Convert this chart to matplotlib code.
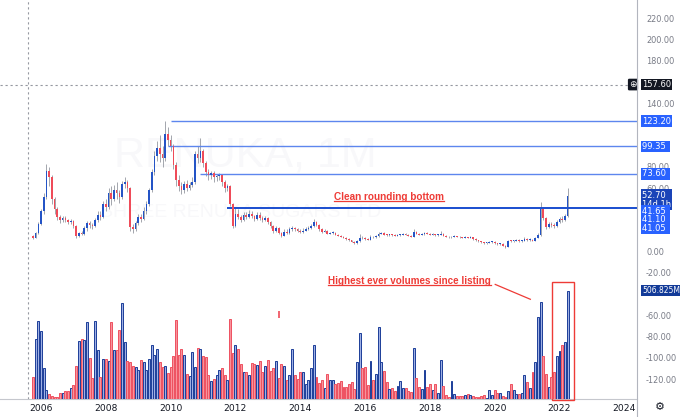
import matplotlib
matplotlib.use("Agg")
import matplotlib.pyplot as plt
from matplotlib.transforms import blended_transform_factory, IdentityTransform
from matplotlib.lines import Line2D
from matplotlib.patches import Rectangle
import numpy as np

# ---------------- data (monthly, Oct 2005 .. Apr 2022) ----------------
first_open = 15.0
closes = [
    13, 18, 26, 38, 52, 76, 70, 50, 40, 33, 30, 32,
    30, 28, 29, 24, 15, 18, 17, 22, 27, 25, 24, 30,
    35, 33, 45, 42, 55, 50, 58, 55, 52, 64, 66, 60,
    23, 21, 27, 33, 31, 38, 45, 58, 75, 90, 98, 92,
    88, 111, 105, 100, 82, 68, 62, 58, 64, 60, 63, 66,
    92, 88, 95, 84, 75, 72, 74, 70, 71, 72, 66, 60,
    62, 45, 24, 36, 33, 30, 35, 33, 36, 34, 31, 35,
    32, 30, 32, 28, 24, 20, 22, 18, 15, 19, 18, 21,
    22, 21, 20, 19, 20, 21, 22, 24, 28, 25, 21, 19,
    20, 17, 17.5, 18, 16, 15, 14, 13, 12, 11, 9.5, 8,
    10, 13, 12.5, 12, 11.5, 14, 13.5, 14.5, 17, 17.5, 16, 15.5,
    16, 15.5, 15, 15.5, 16, 16.5, 16, 15, 14, 19, 17, 16,
    16.5, 17.5, 17, 16, 16.5, 15.5, 16, 17, 15, 14, 13.5, 14,
    14.5, 14, 13.5, 13, 13.5, 13, 13.5, 12, 11, 10, 9, 8,
    8.5, 9, 9.5, 8, 7, 7.5, 5.5, 4.5, 10.5, 10, 10.5, 11,
    10, 10.5, 12, 11, 11.5, 10.5, 13, 16, 40, 32, 23, 26,
    25, 24, 28, 31, 30, 34, 52.7,
]
highs = [
    16, 19, 28, 40, 55, 83, 80, 72, 52, 42, 35, 34,
    34, 31, 31, 30, 25, 19, 20, 24, 29, 29, 27, 32,
    38, 38, 48, 50, 60, 62, 63, 66, 58, 67, 70, 68,
    61, 26, 29, 36, 36, 42, 48, 60, 78, 95, 104, 110,
    100, 123.2, 118, 110, 102, 85, 72, 66, 67, 68, 66, 70,
    95, 100, 107, 97, 86, 78, 76, 76, 73.6, 74, 73, 68,
    64, 63, 46, 41.65, 40, 35, 37, 37, 39, 38, 35, 37,
    37, 34, 34, 33, 29, 25, 24, 23, 19, 21, 21, 23,
    24, 23, 22, 21, 22, 23, 24, 26, 31, 29, 26, 22,
    21.5, 20.5, 19, 19.5, 18.5, 16.5, 15.5, 14.5, 13.5, 12.5, 11.5, 10,
    11, 17, 14.5, 13.5, 13, 15.5, 15, 16, 19, 19, 18.5, 17,
    17, 17, 16.5, 16.5, 17, 18, 17.5, 16.5, 15.5, 21, 19.5, 18,
    17.5, 19, 18.5, 17.5, 17.5, 17, 17, 20, 17.5, 15.5, 14.5, 15,
    15.5, 15, 14.5, 14, 14.5, 14, 14.5, 14, 12.5, 11.5, 10.5, 9.5,
    9.5, 10, 10.5, 10, 8.5, 8.5, 8, 6, 11.5, 11.5, 11.5, 12,
    12, 11.5, 13.5, 13, 12.5, 12, 14, 18, 47, 42, 33, 28,
    28, 27, 30, 33, 34, 36, 60,
]
lows = [
    12, 12.5, 17, 25, 36, 50, 62, 45, 36, 30, 27, 28,
    28, 26, 26, 22, 13, 14, 15.5, 16, 20, 22, 21, 23,
    28, 30, 32, 38, 40, 44, 48, 50, 46, 50, 60, 56,
    20, 18, 20, 25, 28, 30, 36, 43, 56, 72, 86, 85,
    80, 86, 99.35, 95, 78, 62, 57, 54, 55, 57, 58, 61,
    64, 84, 85, 80, 71, 68, 69, 66, 67, 68, 62, 56,
    57, 43, 22, 23, 31, 28, 29, 31, 32, 32, 29, 30,
    30, 28, 29, 26, 22, 18, 19, 17, 14, 14.5, 17, 17,
    20, 20, 19, 18, 18, 19.5, 20.5, 21, 23, 24, 20, 18,
    18.5, 16.5, 16.5, 17, 15.5, 14.5, 13.5, 12.5, 11.5, 10.5, 9, 7.5,
    7.5, 9.5, 12, 11.5, 11, 11, 13, 13, 14, 16.5, 15.5, 15,
    15, 15, 14.5, 14.5, 15, 15.5, 15.5, 14.5, 13.5, 13.5, 16.5, 15.5,
    15.5, 16, 16.5, 15.5, 15.5, 15, 15, 15.5, 14.5, 13.5, 13, 13,
    13.5, 13.5, 13, 12.5, 12.5, 12.5, 12.5, 11.5, 10.5, 9.5, 8.5, 7.5,
    7.5, 8, 8.5, 7.5, 6.5, 6.5, 5, 3.5, 4.5, 9, 9.5, 10,
    9.5, 9.5, 10, 10.5, 10.5, 10, 10, 12.5, 15, 30, 21, 22,
    23, 22, 23, 27, 28, 29, 33,
]
volumes_m = [
    102, 282, 367, 317, 145, 44, 23, 12, 8, 8, 28, 27,
    39, 36, 52, 67, 153, 271, 283, 278, 360, 192, 99, 364,
    227, 103, 185, 188, 180, 361, 227, 231, 321, 450, 267, 180,
    172, 156, 150, 138, 181, 175, 138, 189, 255, 208, 232, 172,
    150, 153, 122, 150, 203, 369, 208, 232, 208, 117, 106, 221,
    149, 240, 232, 203, 197, 114, 86, 94, 110, 136, 145, 114,
    88, 375, 213, 255, 236, 164, 125, 128, 111, 169, 164, 158,
    180, 125, 153, 181, 133, 144, 177, 99, 164, 156, 88, 114,
    232, 110, 94, 125, 125, 70, 89, 147, 252, 102, 74, 89,
    53, 117, 89, 89, 69, 77, 86, 58, 55, 69, 81, 48,
    174, 308, 144, 149, 66, 178, 89, 117, 335, 174, 131, 78,
    47, 53, 39, 61, 83, 50, 50, 39, 34, 238, 97, 58,
    47, 136, 58, 70, 42, 70, 30, 183, 61, 19, 8, 84,
    23, 14, 14, 14, 19, 23, 19, 14, 11, 11, 14, 19,
    6, 42, 19, 42, 27, 30, 14, 11, 39, 69, 42, 23,
    22, 30, 111, 81, 50, 124, 175, 383, 452, 202, 117, 58,
    105, 128, 199, 225, 252, 269, 507,
]
first_year, first_month = 2005, 10
tick_years = [2006, 2008, 2010, 2012, 2014, 2016, 2018, 2020, 2022, 2024]
price_ticks = [220, 200, 180, 140, 80, 60, 0, -20, -60, -80, -100, -120]

level_prices = [123.20, 99.35, 73.60, 41.65, 41.10, 41.05]
level_start = [51, 50, 62, 72, 72, 72]
last_price = 52.70
crosshair_price = 157.60
last_volume = 506.825
stray_mark = (91, 378, 411)   # small red mark in volume pane

# ---------------- figure ----------------
W, H = 680, 417
fig = plt.figure(figsize=(W / 100, H / 100), dpi=100)
fig.patch.set_facecolor("white")
ax_bottom_px = 399
ax = fig.add_axes([0, (H - ax_bottom_px) / H, 637 / W, ax_bottom_px / H])
ax.set_facecolor("white")

n = len(closes)
x = np.arange(n)
closes_a = np.array(closes, float)
opens_a = np.concatenate([[first_open], closes_a[:-1]])
highs_a = np.array(highs, float)
lows_a = np.array(lows, float)
up = closes_a >= opens_a

UP_C = "#2454c6"
DN_C = "#ef4b59"
WICK_C = "#a3a6ad"

ax.set_xlim(-12.2, 223.7)
ax.set_ylim(-138.8, 237.3)

# watermark (very faint)
ax.text(78.5, 91, "RENUKA, 1M", fontsize=31, color="#f8f8fa", ha="center",
        va="center", zorder=0, family="Liberation Sans")
ax.text(77, 37, "SHREE RENUKA SUGARS LTD", fontsize=14, color="#f8f8fa",
        ha="center", va="center", zorder=0, family="Liberation Sans")

# crosshair
ax.axhline(crosshair_price, color="#9598a1", lw=0.8, ls=(0, (2, 2.5)), zorder=1)
ax.axvline(-1.85, color="#9598a1", lw=0.8, ls=(0, (2, 2.5)), zorder=1)

# candles
ax.vlines(x, lows_a, highs_a, color=WICK_C, lw=0.7, zorder=2)
body_bottom = np.minimum(opens_a, closes_a)
body_h = np.maximum(np.abs(closes_a - opens_a), 0.8)
ax.bar(x, body_h, bottom=body_bottom, width=0.62,
       color=np.where(up, UP_C, DN_C), zorder=3, linewidth=0)

# horizontal levels
for p, s in zip(level_prices, level_start):
    if p > 50:
        ax.hlines(p, s, 223.7, color="#5d86ee", lw=1.0, zorder=2.5)
    else:
        ax.hlines(p, s, 223.7, color="#1d4fd0", lw=1.1, zorder=2.5)

# ---------------- volume pane ----------------
ax2 = ax.twinx()
ax2.set_ylim(0, 1867)
ax2.set_xlim(ax.get_xlim())
ax2.bar(x, volumes_m, width=0.72,
        color=np.where(up, "#9fb0e4", "#f7939c"),
        edgecolor=np.where(up, "#1c3e99", "#ee5160"), linewidth=0.7, zorder=2)
ax2.vlines(stray_mark[0], stray_mark[1], stray_mark[2], color=DN_C, lw=1.2)
ax2.set_yticks([])
ax2.tick_params(axis="both", length=0)
for sp in ax2.spines.values():
    sp.set_visible(False)

# axes styling (after twinx, which moves ticks to the left)
ax.yaxis.tick_right()
ax.set_yticks(price_ticks)
ax.set_yticklabels([f"{v:.2f}" for v in price_ticks])
ax.tick_params(axis="y", which="both", left=False, labelleft=False,
               right=False, labelright=True, length=0, pad=6.5,
               labelsize=5.9, labelcolor="#787b86")
tick_pos = [(y - first_year) * 12 + (1 - first_month) for y in tick_years]
ax.set_xticks(tick_pos)
ax.set_xticklabels([str(y) for y in tick_years])
ax.tick_params(axis="x", length=0, pad=3.5, labelsize=6.6, labelcolor="#131722")
for lab in ax.get_yticklabels() + ax.get_xticklabels():
    lab.set_family("DejaVu Sans")
for sp in ["top", "left", "right"]:
    ax.spines[sp].set_visible(False)
ax.spines["bottom"].set_color("#c5c7cd")
ax.spines["bottom"].set_linewidth(0.8)

# annotations
RED = "#ee3b36"
t1 = ax2.text(132, 52, "Clean rounding bottom", color=RED, fontsize=7.2,
              fontweight="bold", ha="center", va="center",
              family="Liberation Sans", zorder=6, transform=ax.transData)
t2 = ax2.text(139.5, -27.8, "Highest ever volumes since listing", color=RED,
              fontsize=7.1, fontweight="bold", ha="center", va="center",
              family="Liberation Sans", zorder=6, transform=ax.transData)
ax.plot([171.2, 184.2], [-30.8, -44.8], color=RED, lw=0.9, zorder=6)
ax.add_patch(Rectangle((192.3, -140.2), 8.2, 140.2 - 28.6, fill=False,
                       ec=RED, lw=1.0, clip_on=False, zorder=6))

# ---------------- right-hand price labels ----------------
tr_p = blended_transform_factory(ax.transAxes, ax.transData)
tr_v = blended_transform_factory(ax.transAxes, ax2.transData)
xl = 642.0 / 637


def label(yv, text, fc, tr, fs=6.0, color="white", ls=1.2):
    ax2.text(xl, yv, text, transform=tr, fontsize=fs, color=color, ha="left",
             va="center", family="DejaVu Sans", clip_on=False, zorder=10,
             linespacing=ls,
             bbox=dict(boxstyle="square,pad=0.16", fc=fc, ec="none"))


label(crosshair_price, "157.60", "#131722", tr_p)
label(123.20, "123.20", "#2962ff", tr_p)
label(99.35, "99.35 ", "#2962ff", tr_p)
label(73.60, "73.60 ", "#2962ff", tr_p)
label(49.2, f"{last_price:.2f} \n14d 1h", "#1a44b8", tr_p, ls=1.0)
label(38.4, "41.65 ", "#2962ff", tr_p)
label(30.3, "41.10 ", "#2962ff", tr_p)
label(22.3, "41.05 ", "#2962ff", tr_p)
label(last_volume, "506.825M", "#123a98", tr_v, fs=5.5)
ax2.text(633 / 637, crosshair_price, "\u2295", transform=tr_p, fontsize=6.5,
         color="white", ha="center", va="center", clip_on=False, zorder=10,
         bbox=dict(boxstyle="round,pad=0.15", fc="#131722", ec="none"))

# separator lines and gear icon
fig.add_artist(Line2D([637 / W, 637 / W], [0, 1], transform=fig.transFigure,
                      color="#b2b5be", lw=0.8))
fig.text(660 / W, 1 - 407 / H, "\u2699", fontsize=8, color="#131722",
         ha="center", va="center", family="DejaVu Sans")

# underline the annotation texts
fig.canvas.draw()
r = fig.canvas.get_renderer()
for t in (t1, t2):
    bb = t.get_window_extent(r)
    fig.add_artist(Line2D([bb.x0, bb.x1], [bb.y0 + 1.0, bb.y0 + 1.0],
                          transform=IdentityTransform(), color=RED, lw=0.9))

fig.savefig("out.png", dpi=100)
